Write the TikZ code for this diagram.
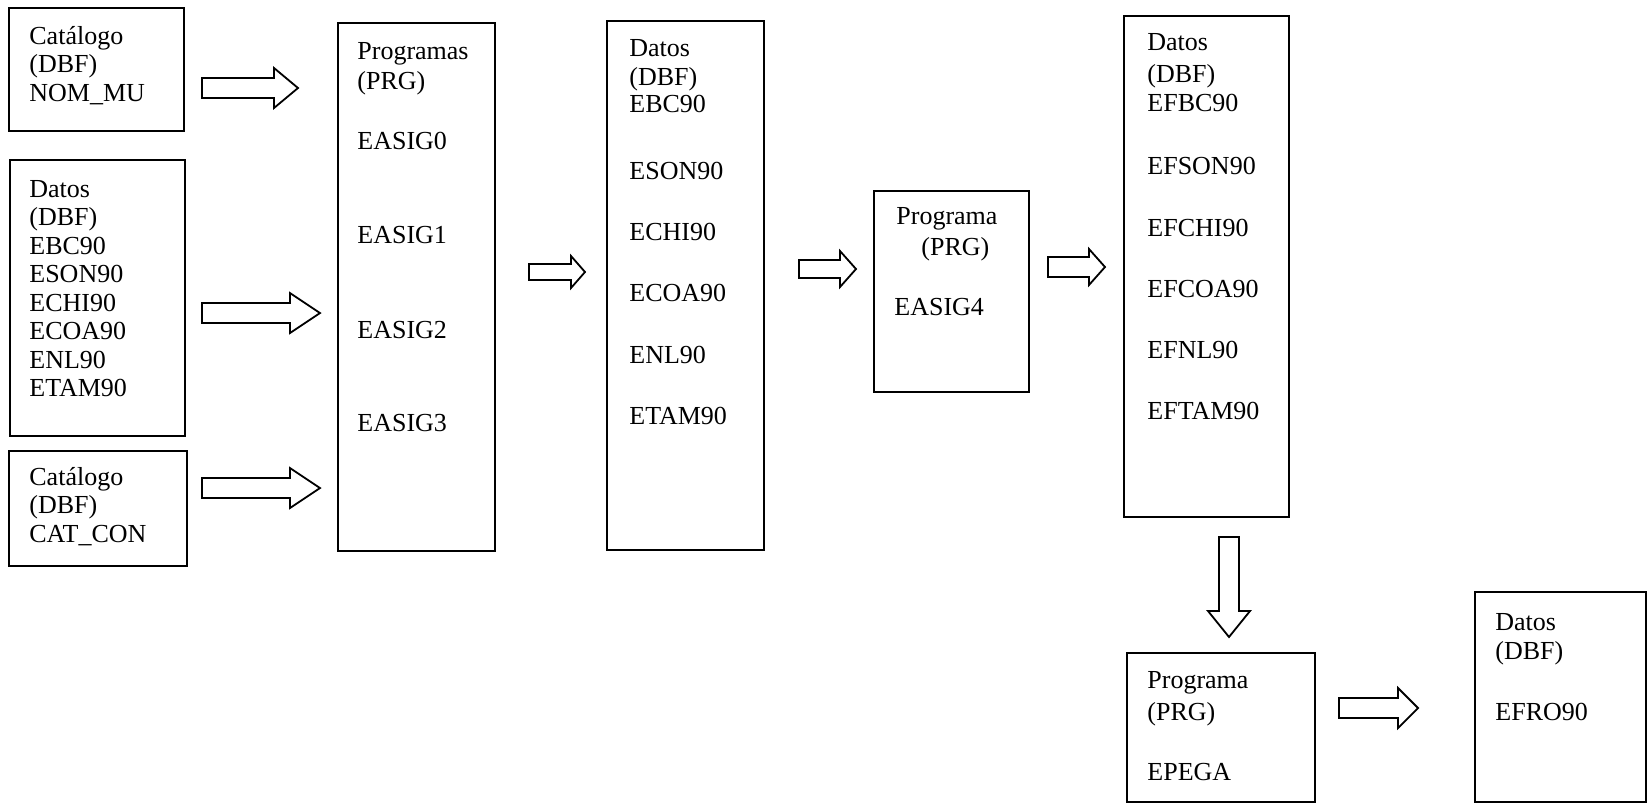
\documentclass[tikz,border=0pt]{standalone}
\usepackage{fontspec}
\setmainfont{Liberation Serif}
\usetikzlibrary{calc, positioning}

% hollow block arrow: tail, tip, half shaft, half head, head length
\newcommand{\blockarrow}[5]{%
  \coordinate (bh) at ($(#2)!#5!(#1)$);
  \draw[hollow] ($(#1)!#3!90:(#2)$) -- ($(bh)!#3!90:(#2)$) -- ($(bh)!#4!90:(#2)$)
    -- (#2) -- ($(bh)!#4!-90:(#2)$) -- ($(bh)!#3!-90:(#2)$) -- ($(#1)!#3!-90:(#2)$) -- cycle;
}
% lines of text inside a box: name, x, list text/baseline
\newcommand{\boxtext}[3]{%
  \foreach \txt/\yb [count=\i] in {#3}
    \node[txt] (#1-\i) at (#2,\yb) {\txt};
}

\begin{document}
\begin{tikzpicture}[x=0.5pt, y=-0.5pt,
    box/.style={draw, line width=1pt, inner sep=0pt, outer sep=0pt, anchor=north west},
    hollow/.style={draw, line width=0.9pt, line join=miter},
    txt/.style={anchor=base west, inner sep=0pt, font=\fontsize{13}{15}\selectfont}]

  \useasboundingbox (0,0) rectangle (1648,804);

  % Input files
  \node[box, minimum width=87.5pt, minimum height=61.5pt] (catMun) at (9,8) {};
  \node[box, minimum width=87.5pt, minimum height=138pt] (datIn) at (10,160) {};
  \node[box, minimum width=89pt, minimum height=57.5pt] (catCon) at (9,451) {};

  \boxtext{catMun}{29}{Catálogo/44, {(DBF)}/72.5, NOM\_MU/101}
  \boxtext{datIn}{29}{Datos/197, {(DBF)}/225.5, EBC90/254, ESON90/282.5, ECHI90/311, ECOA90/339.5, ENL90/368, ETAM90/396.5}
  \boxtext{catCon}{29}{Catálogo/485, {(DBF)}/513, CAT\_CON/542}

  % Programs EASIG0-3
  \node[box, minimum width=78.5pt, minimum height=264pt] (progAsig) at (338,23) {};
  \boxtext{progAsig}{357}{Programas/59, {(PRG)}/89, EASIG0/149, EASIG1/243, EASIG2/338, EASIG3/431}

  % Intermediate data
  \node[box, minimum width=78.5pt, minimum height=264.5pt] (datAsig) at (607,21) {};
  \boxtext{datAsig}{629}{Datos/56, {(DBF)}/85, EBC90/112, ESON90/179, ECHI90/240, ECOA90/301, ENL90/363, ETAM90/424}

  % Program EASIG4
  \node[box, minimum width=77.5pt, minimum height=100.5pt] (progAsigF) at (874,191) {};
  \node[txt] (progAsigF-1) at (896,224) {Programa};
  \node[txt] (progAsigF-2) at (921,255) {(PRG)};
  \node[txt] (progAsigF-3) at (894,315) {EASIG4};

  % Final data
  \node[box, minimum width=82.5pt, minimum height=250.5pt] (datFin) at (1124,16) {};
  \boxtext{datFin}{1147}{Datos/50, {(DBF)}/82, EFBC90/111, EFSON90/174, EFCHI90/236, EFCOA90/297, EFNL90/358, EFTAM90/419}

  % Program EPEGA and result
  \node[box, minimum width=94pt, minimum height=74.5pt] (progPega) at (1127,653) {};
  \boxtext{progPega}{1147}{Programa/688, {(PRG)}/720, EPEGA/780}
  \node[box, minimum width=85.5pt, minimum height=105pt] (datFro) at (1475,592) {};
  \boxtext{datFro}{1495}{Datos/630, {(DBF)}/659, EFRO90/720}

  % Block arrows
  \coordinate (a1t) at (202,88);   \coordinate (a1h) at (298,88);
  \coordinate (a2t) at (202,313);  \coordinate (a2h) at (320,313);
  \coordinate (a3t) at (202,488);  \coordinate (a3h) at (320,488);
  \coordinate (a4t) at (529,272);  \coordinate (a4h) at (585,272);
  \coordinate (a5t) at (799,269);  \coordinate (a5h) at (856,269);
  \coordinate (a6t) at (1048,267); \coordinate (a6h) at (1105,267);
  \coordinate (a7t) at (1229,537); \coordinate (a7h) at (1229,637);
  \coordinate (a8t) at (1339,708); \coordinate (a8h) at (1418,708);

  \blockarrow{a1t}{a1h}{5pt}{10pt}{12pt}
  \blockarrow{a2t}{a2h}{5pt}{10pt}{15pt}
  \blockarrow{a3t}{a3h}{5pt}{10pt}{15pt}
  \blockarrow{a4t}{a4h}{4pt}{8pt}{7pt}
  \blockarrow{a5t}{a5h}{4.5pt}{9pt}{8pt}
  \blockarrow{a6t}{a6h}{5pt}{9pt}{8pt}
  \blockarrow{a7t}{a7h}{5pt}{10.5pt}{13pt}
  \blockarrow{a8t}{a8h}{5pt}{10pt}{10pt}
\end{tikzpicture}
\end{document}
